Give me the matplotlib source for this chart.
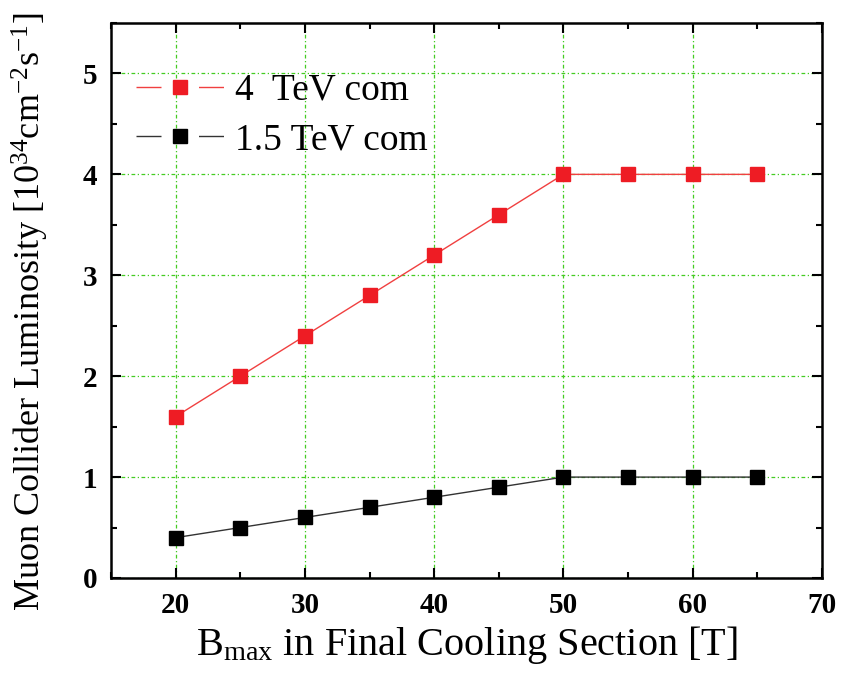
import matplotlib
matplotlib.use("Agg")
import matplotlib.pyplot as plt
from matplotlib.ticker import MultipleLocator
from matplotlib.lines import Line2D

plt.rcParams['font.family'] = ['Liberation Serif', 'DejaVu Serif']
plt.rcParams['mathtext.fontset'] = 'custom'
plt.rcParams['mathtext.rm'] = 'Liberation Serif'
plt.rcParams['mathtext.it'] = 'Liberation Serif:italic'

bmax = [20, 25, 30, 35, 40, 45, 50, 55, 60, 65]
lum_4tev = [1.6, 2.0, 2.4, 2.8, 3.2, 3.6, 4.0, 4.0, 4.0, 4.0]
lum_15tev = [0.4, 0.5, 0.6, 0.7, 0.8, 0.9, 1.0, 1.0, 1.0, 1.0]
labels = ["4  TeV com", "1.5 TeV com"]

red_line, red_mark = '#f04040', '#ee1c24'
blk_line, blk_mark = '#333333', 'black'

fig = plt.figure(figsize=(8.48, 6.73), dpi=100)
ax = fig.add_axes([111/848, 1-578/673, (822-111)/848, (578-23)/673])

ax.plot(bmax, lum_4tev, color=red_line, lw=1.0, marker='s', ms=9.5,
        mfc=red_mark, mec=red_mark, zorder=3)
ax.plot(bmax, lum_15tev, color=blk_line, lw=1.0, marker='s', ms=9.5,
        mfc=blk_mark, mec=blk_mark, zorder=3)

ax.set_xlim(15, 70)
ax.set_ylim(0, 5.5)
ax.xaxis.set_major_locator(MultipleLocator(10))
ax.xaxis.set_minor_locator(MultipleLocator(5))
ax.yaxis.set_major_locator(MultipleLocator(1))
ax.yaxis.set_minor_locator(MultipleLocator(0.5))
ax.tick_params(which='both', direction='in', top=True, right=True, width=1.5)
ax.tick_params(which='major', length=7, labelsize=21, pad=10)
ax.tick_params(which='minor', length=4)
for lab in ax.get_xticklabels() + ax.get_yticklabels():
    lab.set_fontweight('bold')
for s in ax.spines.values():
    s.set_linewidth(1.8)

ax.grid(True, which='major', color='#44cc22', linestyle=(0, (3, 2, 1, 2)), lw=0.9)
ax.set_axisbelow(True)

ax.set_xlabel(r"B$_{\mathrm{max}}$ in Final Cooling Section [T]", fontsize=29, labelpad=4)
ax.set_ylabel(r"Muon Collider Luminosity [10$^{34}$cm$^{-2}$s$^{-1}$]", fontsize=26)
ax.yaxis.set_label_coords(-0.085, 0.48)

dash = (0, (18, 27))
handles = [
    Line2D([], [], color=red_line, lw=1.0, linestyle=dash, marker='s', ms=9.5,
           mfc=red_mark, mec=red_mark),
    Line2D([], [], color=blk_line, lw=1.0, linestyle=dash, marker='s', ms=9.5,
           mfc=blk_mark, mec=blk_mark),
]
leg = ax.legend(handles, labels, loc='upper left', frameon=False, fontsize=27,
                handlelength=2.33, borderaxespad=0.2, bbox_to_anchor=(0.004, 0.95),
                labelspacing=0.4, handletextpad=0.3)

fig.savefig("out.png", dpi=100)
